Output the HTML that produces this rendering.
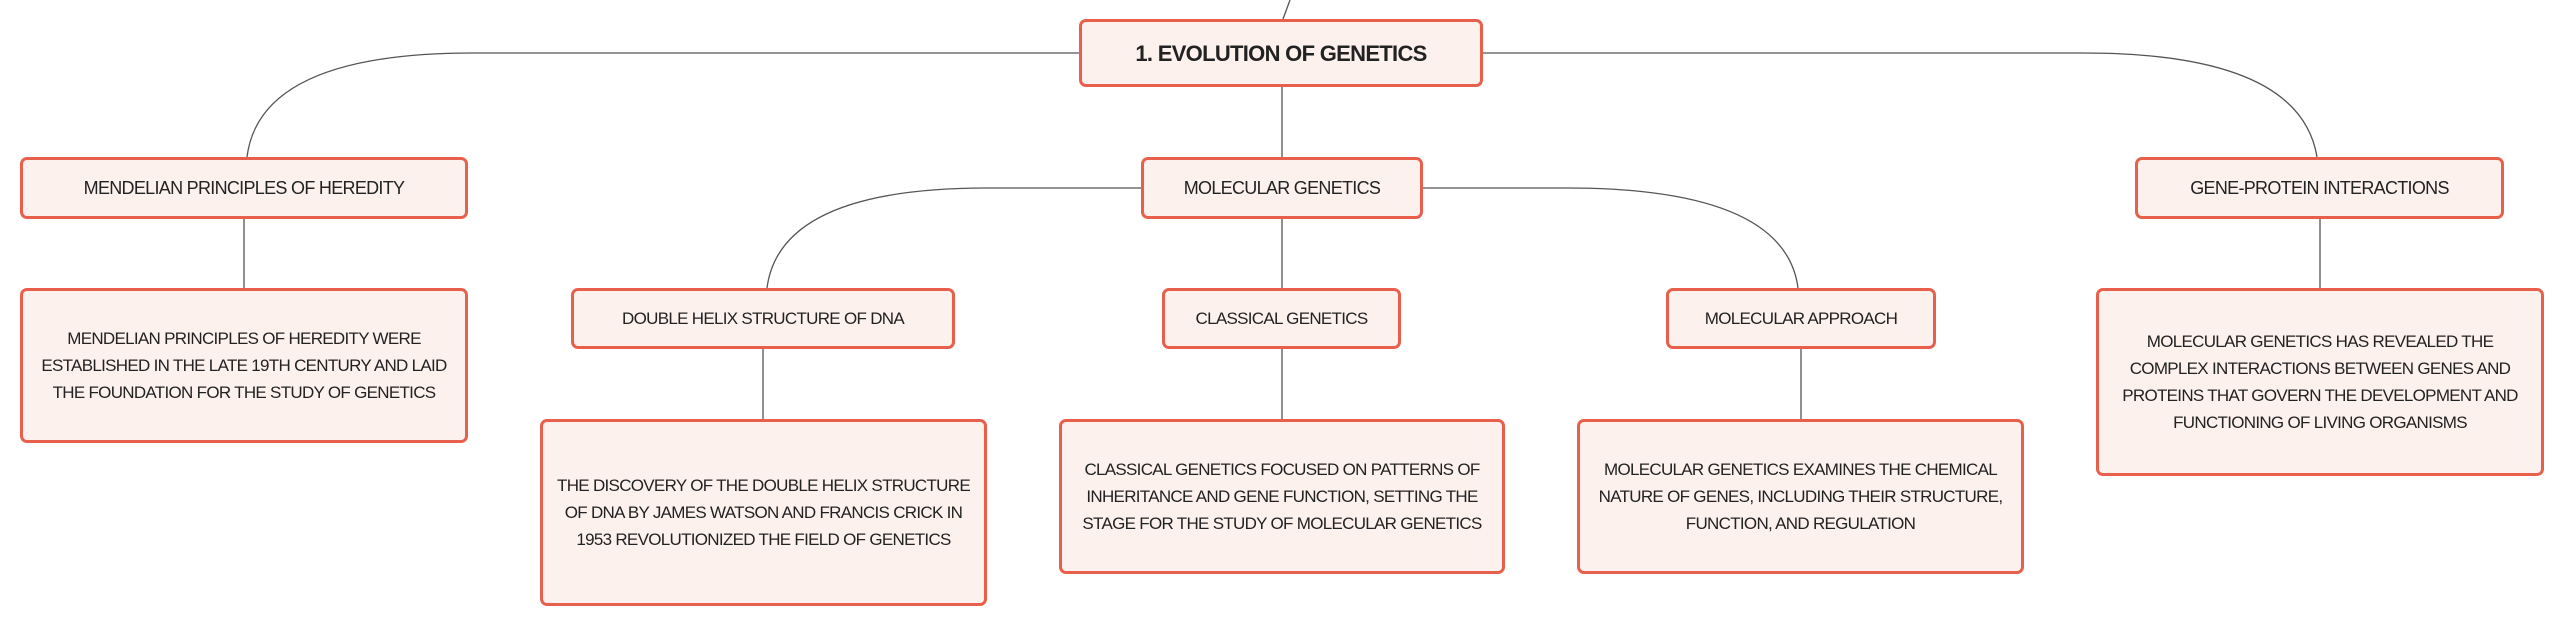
<!DOCTYPE html>
<html><head><meta charset="utf-8"><style>
body{margin:0;width:2565px;height:624px;background:#fff;position:relative;overflow:hidden;font-family:"Liberation Sans",sans-serif;}
.b{position:absolute;box-sizing:border-box;border:3px solid #e8604c;border-radius:7px;background:#fdf1ee;display:flex;align-items:center;justify-content:center;text-align:center;color:#222;font-size:18px;line-height:27px;letter-spacing:-0.7px;padding:0 2px;white-space:nowrap;}
.d{font-size:17px;}
svg{position:absolute;left:0;top:0}
</style></head><body>
<svg width="2565" height="624" fill="none" stroke="#555" stroke-width="1.3">
<path d="M1283 19 L1290 0"/>
<path d="M1079 53 H473 Q260 53 247 157"/>
<path d="M1483 53 H2083 Q2300 53 2317 157"/>
<path d="M1282 87 V157"/>
<path d="M244 219 V288"/>
<path d="M2320 219 V288"/>
<path d="M1141 188 H987 Q780 188 767 288"/>
<path d="M1423 188 H1567 Q1785 188 1798 288"/>
<path d="M1282 219 V288"/>
<path d="M763 349 V419"/>
<path d="M1282 349 V419"/>
<path d="M1801 349 V419"/>
</svg>
<div class="b" style="left:1079px;top:19px;width:404px;height:68px;font-weight:bold;font-size:22px;">1. EVOLUTION OF GENETICS</div>
<div class="b" style="left:20px;top:157px;width:448px;height:62px;">MENDELIAN PRINCIPLES OF HEREDITY</div>
<div class="b" style="left:1141px;top:157px;width:282px;height:62px;">MOLECULAR GENETICS</div>
<div class="b" style="left:2135px;top:157px;width:369px;height:62px;">GENE-PROTEIN INTERACTIONS</div>
<div class="b d" style="left:571px;top:288px;width:384px;height:61px;">DOUBLE HELIX STRUCTURE OF DNA</div>
<div class="b d" style="left:1162px;top:288px;width:239px;height:61px;">CLASSICAL GENETICS</div>
<div class="b d" style="left:1666px;top:288px;width:270px;height:61px;">MOLECULAR APPROACH</div>
<div class="b d" style="left:20px;top:288px;width:448px;height:155px;">MENDELIAN PRINCIPLES OF HEREDITY WERE<br>ESTABLISHED IN THE LATE 19TH CENTURY AND LAID<br>THE FOUNDATION FOR THE STUDY OF GENETICS</div>
<div class="b d" style="left:2096px;top:288px;width:448px;height:188px;">MOLECULAR GENETICS HAS REVEALED THE<br>COMPLEX INTERACTIONS BETWEEN GENES AND<br>PROTEINS THAT GOVERN THE DEVELOPMENT AND<br>FUNCTIONING OF LIVING ORGANISMS</div>
<div class="b d" style="left:540px;top:419px;width:447px;height:187px;">THE DISCOVERY OF THE DOUBLE HELIX STRUCTURE<br>OF DNA BY JAMES WATSON AND FRANCIS CRICK IN<br>1953 REVOLUTIONIZED THE FIELD OF GENETICS</div>
<div class="b d" style="left:1059px;top:419px;width:446px;height:155px;">CLASSICAL GENETICS FOCUSED ON PATTERNS OF<br>INHERITANCE AND GENE FUNCTION, SETTING THE<br>STAGE FOR THE STUDY OF MOLECULAR GENETICS</div>
<div class="b d" style="left:1577px;top:419px;width:447px;height:155px;">MOLECULAR GENETICS EXAMINES THE CHEMICAL<br>NATURE OF GENES, INCLUDING THEIR STRUCTURE,<br>FUNCTION, AND REGULATION</div>
</body></html>
